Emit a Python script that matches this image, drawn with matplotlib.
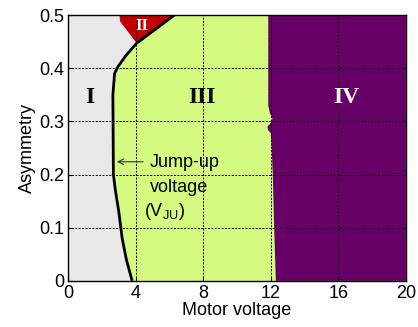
import matplotlib
matplotlib.use('Agg')
import matplotlib.pyplot as plt

# jump-up voltage boundary (region I / III), bottom to top
vju_x = [3.79, 3.45, 3.2, 3.0, 2.8, 2.68, 2.66, 2.65, 2.75, 2.95, 3.45, 4.06, 6.3]
vju_y = [0.0, 0.04, 0.08, 0.13, 0.17, 0.2, 0.3, 0.35, 0.39, 0.403, 0.425, 0.447, 0.5]

# region III / IV boundary, top to bottom
b34_x = [11.85, 11.85, 11.95, 12.1, 12.0, 11.8, 11.85, 12.0, 12.05, 12.12, 12.2, 12.3]
b34_y = [0.5, 0.33, 0.315, 0.305, 0.297, 0.29, 0.283, 0.278, 0.25, 0.2, 0.1, 0.0]

# region II corners
r2_x = [3.04, 3.08, 4.06, 6.3]
r2_y = [0.5, 0.488, 0.447, 0.5]

x_max = 20
y_max = 0.5
xticks = [0, 4, 8, 12, 16, 20]
yticks = [0, 0.1, 0.2, 0.3, 0.4, 0.5]
ytick_labels = ['0', '0.1', '0.2', '0.3', '0.4', '0.5']

plt.rcParams['font.family'] = ['Liberation Sans', 'DejaVu Sans']
plt.rcParams['mathtext.fontset'] = 'custom'
plt.rcParams['mathtext.rm'] = 'Liberation Sans'
plt.rcParams['mathtext.it'] = 'Liberation Sans'

fig = plt.figure(figsize=(4.18, 3.27), dpi=100)
ax = fig.add_axes([0.163, 0.141, 0.808, 0.813])
ax.set_facecolor('#e8e8e8')

# region III
ax.fill(vju_x + b34_x, vju_y + b34_y, color='#d4fa80', lw=0, zorder=1)
# region IV
ax.fill(b34_x + [x_max, x_max], b34_y + [0, y_max], color='#660066', lw=0, zorder=1)
# region II
ax.fill(r2_x, r2_y, color='#c00000', lw=0, zorder=1)

ax.grid(True, color='black', linestyle=(0, (2, 1.5)), linewidth=0.7, zorder=2)
ax.set_axisbelow(False)
ax.plot(vju_x, vju_y, color='black', lw=2, zorder=3, solid_capstyle='butt')

ax.set_xlim(0, x_max)
ax.set_ylim(0, y_max)
ax.set_xticks(xticks)
ax.set_yticks(yticks)
ax.set_yticklabels(ytick_labels)
ax.tick_params(direction='in', labelsize=13, length=3, pad=3)
ax.set_xlabel('Motor voltage', fontsize=13, labelpad=0)
ax.set_ylabel('Asymmetry', fontsize=13, labelpad=2)
for sp in ax.spines.values():
    sp.set_linewidth(1)

serif = ['Liberation Serif', 'DejaVu Serif']
ax.text(1.3, 0.345, 'I', family=serif, fontsize=17, fontweight='bold', ha='center', va='center', zorder=4)
ax.text(7.9, 0.345, 'III', family=serif, fontsize=17, fontweight='bold', ha='center', va='center', zorder=4)
ax.text(16.5, 0.345, 'IV', family=serif, fontsize=17, fontweight='bold', color='white', ha='center', va='center', zorder=4)
ax.text(4.36, 0.479, 'II', family=serif, fontsize=12, fontweight='bold', color='white', ha='center', va='center', zorder=4)

ax.annotate('', xy=(2.72, 0.224), xytext=(4.6, 0.224),
            arrowprops=dict(arrowstyle='->', color='#333333', lw=0.8), zorder=4)
ax.text(4.85, 0.222, 'Jump-up', fontsize=13, ha='left', va='center', zorder=4)
ax.text(4.85, 0.176, 'voltage', fontsize=13, ha='left', va='center', zorder=4)
ax.text(4.5, 0.131, '(V$_{\\rm JU}$)', fontsize=13, ha='left', va='center', zorder=4)

fig.savefig('out.png', dpi=100)
